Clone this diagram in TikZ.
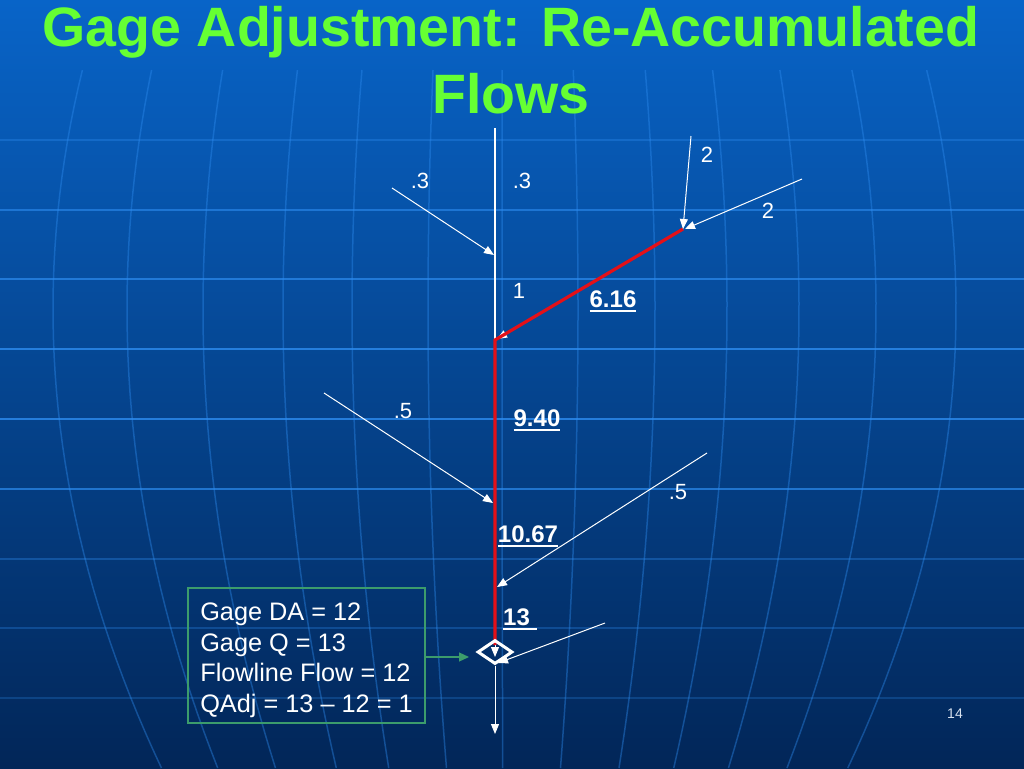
\documentclass[tikz,border=0pt]{standalone}
\usepackage{fontspec}
\setmainfont{Liberation Sans}
\usetikzlibrary{arrows.meta,shapes.geometric}
\definecolor{bgtop}{RGB}{8,100,200}
\definecolor{bgmid}{RGB}{4,72,152}
\definecolor{bgbot}{RGB}{2,38,88}
\definecolor{gridc}{RGB}{45,140,240}
\definecolor{titlegreen}{RGB}{102,255,51}
\definecolor{boxgreen}{RGB}{60,156,108}
\definecolor{riverred}{RGB}{228,16,24}
\definecolor{pagenum}{RGB}{215,225,238}
\newcommand\myul[1]{\vtop{\hbox{#1}\kern2.5pt\hrule height 1.8pt}}
\begin{document}
\begin{tikzpicture}[x=1pt,y=-1pt,
  flowarrow/.style={draw=white, line width=1pt, -{Triangle[length=10pt,width=8pt]}},
  stemline/.style={draw=white, line width=1.2pt},
  redline/.style={draw=riverred, line width=3.2pt},
  lbl/.style={anchor=base, text=white, inner sep=0pt, font=\fontsize{22}{26}\selectfont},
  boldlbl/.style={anchor=base, text=white, inner sep=0pt, font=\fontsize{24}{28}\selectfont\bfseries},
  titlestyle/.style={anchor=base, text=titlegreen, inner sep=0pt, font=\fontsize{55.5}{60}\selectfont\bfseries},
  gridline/.style={draw=gridc, line width=1.6pt},
  gagebox/.style={draw=boxgreen, line width=2pt, text=white, align=left, inner xsep=0pt, inner ysep=0pt,
     minimum width=237pt, minimum height=135pt, font=\fontsize{25.3}{30.5}\selectfont},
  gauge/.style={diamond, draw=white, line width=3pt, inner sep=0pt, minimum width=35pt, minimum height=24pt},
  greenarrow/.style={draw=boxgreen, line width=1.2pt, -{Triangle[length=10pt,width=9pt]}}
]
\useasboundingbox (0,0) rectangle (1024,768);
% background
\shade[top color=bgtop, middle color=bgmid, bottom color=bgbot] (0,0) rectangle (1024,768);
\begin{scope}
\clip (0,0) rectangle (1024,768);
\foreach \yy/\op in {140/0.35,210/0.6,279/0.7,349/0.8,419/0.8,489/0.7,559/0.35,628/0.3,698/0.25}
  \draw[gridline, opacity=\op] (0,\yy) -- (1024,\yy);
\foreach \m in {53,127,203,283,352,428,502,578,655,727,799,876,956}
  \draw[gridc, line width=1.5pt, opacity=0.4]
    plot[domain=70:768, samples=40, variable=\t] ({505+(\m-505)*(1-((\t-309)/937)^2)},\t);
\end{scope}
% title
\node (title1) at (511,47) [titlestyle] {Gage Adjustment: Re-Accumulated};
\node (title2) at (511,113) [titlestyle] {Flows};
% points of the network
\coordinate (stemtop) at (495,128);
\coordinate (j1) at (495,340);
\coordinate (j1w) at (497,339);
\coordinate (up) at (683,229);
\coordinate (a1s) at (392,188);
\coordinate (a1e) at (494,255);
\coordinate (a2s) at (691,136);
\coordinate (a3s) at (802,179);
\coordinate (a3e) at (685,229);
\coordinate (a4s) at (324,393);
\coordinate (a4e) at (493,503);
\coordinate (a5s) at (707,453);
\coordinate (a5e) at (497,587);
\coordinate (a6s) at (605,623);
\coordinate (a6e) at (498,663);
\coordinate (redend) at (495,645);
\coordinate (dtip) at (495,657);
\coordinate (outlet) at (495,734);
\coordinate (gtip) at (469,657);
% white stems
\draw[stemline] (stemtop) -- (j1);
\draw[flowarrow] (up) -- (j1w);
\draw[flowarrow] (j1) -- (dtip);
% red path
\draw[redline] (up) -- (j1) -- (redend);
% tributary arrows
\draw[flowarrow] (a1s) -- (a1e);
\draw[flowarrow] (a2s) -- (up);
\draw[flowarrow] (a3s) -- (a3e);
\draw[flowarrow] (a4s) -- (a4e);
\draw[flowarrow] (a5s) -- (a5e);
% gauge
\node (gage) at (495,652) [gauge] {};
\draw[flowarrow] (a6s) -- (a6e);
\draw[flowarrow] (gage.south) -- (outlet);
% labels
\node (l1) at (420,188) [lbl] {.3};
\node (l2) at (522,188) [lbl] {.3};
\node (l3) at (519,298) [lbl] {1};
\node (l4) at (707,162) [lbl] {2};
\node (l5) at (768,218) [lbl] {2};
\node (l6) at (403,418) [lbl] {.5};
\node (l7) at (678,499) [lbl] {.5};
\node (b1) at (613,307) [boldlbl] {\myul{6.16}};
\node (b2) at (537,426) [boldlbl] {\myul{9.40}};
\node (b3) at (528,542) [boldlbl] {\myul{10.67}};
\node (b4) at (503,625) [boldlbl, anchor=base west] {\myul{13\ }};
% gage box
\node (box) at (306.5,655.5) [gagebox] {\rule{0pt}{27pt}Gage DA = 12\\Gage Q = 13\\Flowline Flow = 12\\QAdj = 13 – 12 = 1\vphantom{Qj}};
\draw[greenarrow] ([yshift=-1.5pt]box.east) -- (gtip);
% page number
\node (pg) at (955,718) [anchor=base, inner sep=0pt, text=pagenum, font=\fontsize{14}{16}\selectfont] {14};
\end{tikzpicture}
\end{document}
